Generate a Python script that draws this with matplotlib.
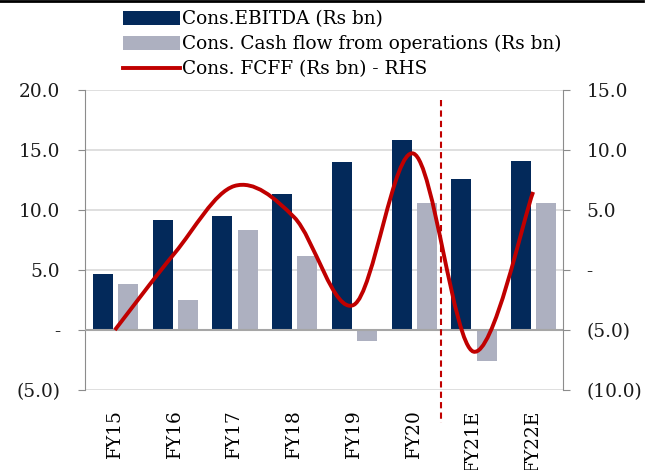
import matplotlib
matplotlib.use("Agg")
import matplotlib.pyplot as plt
from matplotlib.path import Path
from matplotlib.patches import PathPatch, Patch
from matplotlib.lines import Line2D
from matplotlib.ticker import FuncFormatter, FixedLocator
import matplotlib.transforms as mtransforms
import numpy as np

categories = ["FY15", "FY16", "FY17", "FY18", "FY19", "FY20", "FY21E", "FY22E"]
ebitda = [4.7, 9.2, 9.5, 11.3, 14.0, 15.8, 12.6, 14.1]
cfo = [3.8, 2.5, 8.3, 6.2, -0.9, 10.6, -2.6, 10.6]
fcff = [-5.0, 1.4, 7.0, 4.4, -2.9, 9.7, -6.8, 6.5]

NAVY = "#03295A"
GRAY = "#ADB0C0"
RED = "#C00000"

plt.rcParams["font.family"] = ["DejaVu Serif"]
FS = 13.3

fig = plt.figure(figsize=(6.53, 4.70), dpi=100)
ax = fig.add_axes([85/653, 80/470, 478/653, 300/470])
ax2 = ax.twinx()

x = np.arange(len(categories))
w = 0.335
ax.bar(x - 0.2, ebitda, w, color=NAVY, zorder=3)
ax.bar(x + 0.22, cfo, w, color=GRAY, zorder=3)

ax.set_xlim(-0.5, len(categories) - 0.5)
ax.set_ylim(-5, 20)
ax2.set_ylim(-10, 15)

def fmt(v, pos):
    if abs(v) < 1e-9:
        return "-"
    if v < 0:
        return "(%.1f)" % abs(v)
    return "%.1f" % v

ax.yaxis.set_major_locator(FixedLocator([-5, 0, 5, 10, 15, 20]))
ax2.yaxis.set_major_locator(FixedLocator([-10, -5, 0, 5, 10, 15]))
ax.yaxis.set_major_formatter(FuncFormatter(fmt))
ax2.yaxis.set_major_formatter(FuncFormatter(fmt))

for v in [5, 10, 15, 20]:
    ax.axhline(v, color="#D9D9D9", lw=1.2, zorder=1)
ax.axhline(-5, color="#D9D9D9", lw=1.2, zorder=1)
ax.axhline(0, color="#A6A6A6", lw=1.5, zorder=4)

for s in ["top", "bottom"]:
    ax.spines[s].set_visible(False)
    ax2.spines[s].set_visible(False)
ax.spines["left"].set_color("#8C8C8C")
ax2.spines["right"].set_color("#8C8C8C")
ax2.spines["left"].set_visible(False)
ax.spines["right"].set_visible(False)

ax.tick_params(axis="y", length=5, color="#8C8C8C", labelsize=FS, pad=13, labelcolor="#1a1a1a")
ax2.tick_params(axis="y", length=5, color="#8C8C8C", labelsize=FS, pad=12, labelcolor="#1a1a1a")
ax.set_xticks(x)
ax.set_xticklabels(categories, rotation=90, fontsize=FS, va="top")
ax.tick_params(axis="x", length=0, pad=14)

# Smoothed FCFF line (Excel-style smoothing with cubic Bezier segments)
px = list(x.astype(float))
py = list(fcff)
n = len(px)
verts = [(px[0], py[0])]
codes = [Path.MOVETO]
for i in range(n - 1):
    p0 = (px[max(i - 1, 0)], py[max(i - 1, 0)])
    p1 = (px[i], py[i])
    p2 = (px[i + 1], py[i + 1])
    p3 = (px[min(i + 2, n - 1)], py[min(i + 2, n - 1)])
    c1 = (p1[0] + (p2[0] - p0[0]) / 6, p1[1] + (p2[1] - p0[1]) / 6)
    c2 = (p2[0] - (p3[0] - p1[0]) / 6, p2[1] - (p3[1] - p1[1]) / 6)
    verts += [c1, c2, p2]
    codes += [Path.CURVE4] * 3
ax2.add_patch(PathPatch(Path(verts, codes), facecolor="none", edgecolor=RED, lw=2.8, zorder=5, capstyle="butt"))

# vertical dashed separator
trans = mtransforms.blended_transform_factory(ax.transData, ax.transAxes)
ax.plot([5.45, 5.45], [0.967, -0.11], transform=trans, color=RED, lw=1.5,
        ls=(0, (3, 2)), clip_on=False, zorder=6)

# top border line
fig.add_artist(Line2D([0, 0.985], [0.997, 0.997], transform=fig.transFigure, color="black", lw=2))

handles = [Patch(facecolor=NAVY), Patch(facecolor=GRAY), Line2D([], [], color=RED, lw=2.8)]
labels = ["Cons.EBITDA (Rs bn)", "Cons. Cash flow from operations (Rs bn)", "Cons. FCFF (Rs bn) - RHS"]
fig.legend(handles, labels, loc="upper left", bbox_to_anchor=(113/653, 1.0), frameon=False,
           fontsize=FS, handlelength=3.1, handleheight=0.8, handletextpad=0.1,
           labelspacing=0.38, borderaxespad=0.15)

fig.savefig("out.png", dpi=100)
